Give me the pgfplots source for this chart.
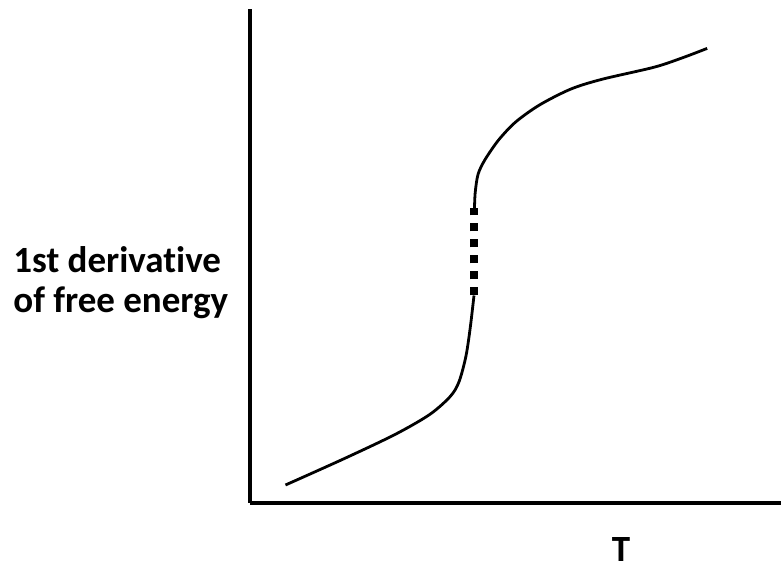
\documentclass[border=0pt]{standalone}
\usepackage{pgfplots}
\pgfplotsset{compat=1.18}
\usepackage{fontspec}
\setmainfont[Ligatures=NoCommon]{Carlito}

% curve (x in px, y = px from the bottom)
\pgfplotstableread{
x y
285.5 86
343.4 112
395.0 136.5
429.7 156.5
450.3 174.6
459.0 189.2
465.9 214.6
470.3 243.7
474.0 275.5
}\lowbranch
\pgfplotstableread{
x y
474.3 275.5
474.3 363
}\jump
\pgfplotstableread{
x y
474.5 363
475.2 378.3
478.0 396.5
484.8 411
498.6 431
515.9 449.2
540.0 466.3
571.0 482
602.0 491.7
653.8 503.7
681.4 512.8
707.2 522.6
}\highbranch

\begin{document}
\begin{tikzpicture}
  \begin{axis}[
      scale only axis,
      width=265.5pt, height=247pt,
      xmin=250, xmax=781, ymin=68, ymax=562,
      axis x line=bottom, axis y line=left,
      axis line style={-, line width=1.75pt, line cap=butt},
      ticks=none,
      clip=false,
      font=\fontsize{18.5}{22}\selectfont\bfseries,
    ]
    \addplot[black, line width=1.4pt, smooth, tension=0.5] table {\lowbranch};
    \addplot[black, line width=4pt, line cap=butt, dash pattern=on 4pt off 4pt] table {\jump};
    \addplot[black, line width=1.4pt, smooth, tension=0.5] table {\highbranch};

    \node[anchor=base west, inner sep=0pt] at (axis cs:13,298) {1st derivative};
    \node[anchor=base west, inner sep=0pt] at (axis cs:13,258) {of free energy};
    \node[anchor=south, inner sep=0pt] at (axis cs:621,9) {T};

    \coordinate (bl) at (axis cs:0,0);
    \coordinate (tr) at (axis cs:781,571);
  \end{axis}
  \pgfresetboundingbox
  \useasboundingbox (bl) rectangle (tr);
\end{tikzpicture}
\end{document}
